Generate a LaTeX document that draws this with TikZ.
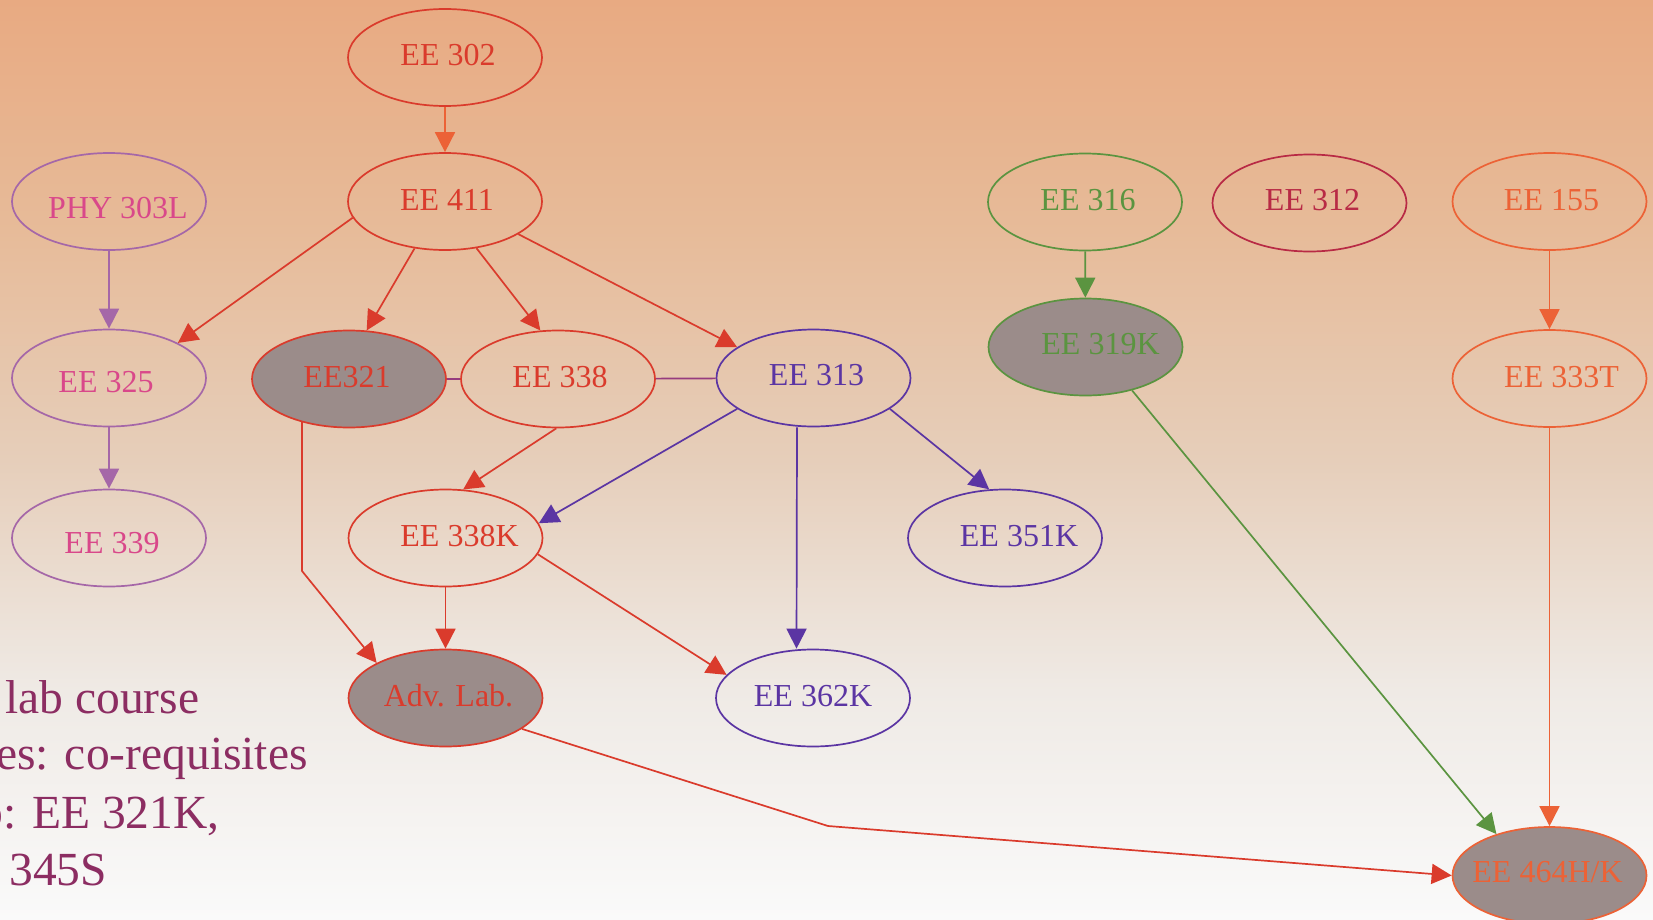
\documentclass[tikz,border=0pt]{standalone}
\usepackage{fontspec}
\setmainfont{Liberation Serif}
\usetikzlibrary{shapes.geometric,arrows.meta}
\definecolor{cred}{HTML}{DA3B2C}
\definecolor{corange}{HTML}{EC6236}
\definecolor{cpurp}{HTML}{A567A8}
\definecolor{cpink}{HTML}{D9488A}
\definecolor{cdpurp}{HTML}{5B35A3}
\definecolor{cgreen}{HTML}{5B9440}
\definecolor{ccrim}{HTML}{B82A45}
\definecolor{cgray}{HTML}{9B8C8A}
\definecolor{clink}{HTML}{963C7E}
\definecolor{cnote}{HTML}{8C2D62}
\definecolor{bga}{RGB}{232,170,130}
\definecolor{bgb}{RGB}{231,187,153}
\definecolor{bgc}{RGB}{230,206,186}
\definecolor{bgd}{RGB}{239,234,229}
\definecolor{bge}{RGB}{250,250,250}
\tikzset{
  course/.style={ellipse, draw, line width=0.85pt, minimum width=97pt, minimum height=48.5pt, inner sep=0pt},
  done/.style={fill=cgray},
  lbl/.style={font=\fontsize{16}{19}\selectfont, inner sep=0pt, anchor=base},
  conn/.style={line width=0.85pt, -{Triangle[length=10pt,width=10pt]}},
  plain/.style={line width=0.85pt},
  note/.style={font=\fontsize{23.75}{28}\selectfont, text=cnote, anchor=base west, inner sep=0pt}
}
\begin{document}
\begin{tikzpicture}[x=0.5pt,y=-0.5pt]
\useasboundingbox (0,0) rectangle (1653,920);
\begin{scope}
\clip (0,0) rectangle (1653,920);
% background
\shade[top color=bga, bottom color=bgb] (0,0) rectangle (1653,231);
\shade[top color=bgb, bottom color=bgc] (0,230) rectangle (1653,461);
\shade[top color=bgc, bottom color=bgd] (0,460) rectangle (1653,691);
\shade[top color=bgd, bottom color=bge] (0,690) rectangle (1653,920);

% nodes
\node[course, draw=cred] (ee302) at (445,57.5) {};
\node[course, draw=cred] (ee411) at (445,201.5) {};
\node[course, draw=cpurp] (phy) at (109,201.5) {};
\node[course, draw=cpurp] (ee325) at (109,378) {};
\node[course, draw=cpurp] (ee339) at (109,538) {};
\node[course, done, draw=cred] (ee321) at (349,379) {};
\node[course, draw=cred] (ee338) at (558,379) {};
\node[course, draw=cdpurp] (ee313) at (813.5,378) {};
\node[course, draw=cred] (ee338k) at (445.5,538) {};
\node[course, draw=cdpurp] (ee351k) at (1005,538) {};
\node[course, done, draw=cred] (advlab) at (445.5,698) {};
\node[course, draw=cdpurp] (ee362k) at (813,698) {};
\node[course, draw=cgreen] (ee316) at (1085,202) {};
\node[course, done, draw=cgreen] (ee319k) at (1085.5,347) {};
\node[course, draw=ccrim] (ee312) at (1309.5,203) {};
\node[course, draw=corange] (ee155) at (1549.5,201.5) {};
\node[course, draw=corange] (ee333t) at (1549.5,378.5) {};
\node[course, done, draw=corange] (ee464) at (1549.5,875.5) {};

% labels
\node[lbl, text=cred] (ee302-t) at ([xshift=1.5pt,yshift=-4.25pt]ee302.center) {EE 302};
\node[lbl, text=cred] (ee411-t) at ([xshift=1pt,yshift=-4.25pt]ee411.center) {EE 411};
\node[lbl, text=cpink] (phy-t) at ([xshift=4.5pt,yshift=-8.25pt]phy.center) {PHY 303L};
\node[lbl, text=cpink] (ee325-t) at ([xshift=-1.5pt,yshift=-7pt]ee325.center) {EE 325};
\node[lbl, text=cpink] (ee339-t) at ([xshift=1.5pt,yshift=-7.5pt]ee339.center) {EE 339};
\node[lbl, text=cred] (ee321-t) at ([xshift=-1pt,yshift=-4pt]ee321.center) {EE321};
\node[lbl, text=cred] (ee338-t) at ([xshift=1pt,yshift=-4pt]ee338.center) {EE 338};
\node[lbl, text=cdpurp] (ee313-t) at ([xshift=1.5pt,yshift=-3.9pt]ee313.center) {EE 313};
\node[lbl, text=cred] (ee338k-t) at ([xshift=7pt,yshift=-4.35pt]ee338k.center) {EE 338K};
\node[lbl, text=cdpurp] (ee351k-t) at ([xshift=7pt,yshift=-4.25pt]ee351k.center) {EE 351K};
\node[lbl, text=cred] (advlab-t) at ([xshift=1.5pt,yshift=-4.35pt]advlab.center) {Adv. Lab.};
\node[lbl, text=cdpurp] (ee362k-t) at ([xshift=0pt,yshift=-4.25pt]ee362k.center) {EE 362K};
\node[lbl, text=cgreen] (ee316-t) at ([xshift=1.5pt,yshift=-4.25pt]ee316.center) {EE 316};
\node[lbl, text=cgreen] (ee319k-t) at ([xshift=7.5pt,yshift=-3.5pt]ee319k.center) {EE 319K};
\node[lbl, text=ccrim] (ee312-t) at ([xshift=1.5pt,yshift=-3.85pt]ee312.center) {EE 312};
\node[lbl, text=corange] (ee155-t) at ([xshift=1pt,yshift=-4.25pt]ee155.center) {EE 155};
\node[lbl, text=corange] (ee333t-t) at ([xshift=6pt,yshift=-4.25pt]ee333t.center) {EE 333T};
\node[lbl, text=corange] (ee464-t) at ([xshift=-1pt,yshift=-3.6pt]ee464.center) {EE 464H/K};

% connectors
\draw[conn, corange] (ee302) -- (ee411);
\draw[conn, cred] (ee411.190) -- (ee325.27);
\draw[conn, cred] (ee411.237) -- (ee321.70);
\draw[conn, cred] (ee411.304) -- (ee338.110);
\draw[conn, cred] (ee411.336) -- (ee313.158);
\draw[conn, cpurp] (phy) -- (ee325);
\draw[conn, cpurp] (ee325) -- (ee339);
\draw[plain, clink] (ee321) -- (ee338);
\draw[plain, clink] (ee338) -- (ee313);
\draw[conn, cred] (ee338.268) -- (ee338k.70);
\draw[conn, cdpurp] (ee313.202) -- (ee338k.9);
\draw[conn, cdpurp] ([xshift=-8.25pt]ee313.south) -- ([xshift=-8.25pt]ee362k.north);
\draw[conn, cdpurp] (ee313.338) -- (ee351k.108);
\coordinate (b1) at (302,571);
\draw[conn, cred] (ee321.222 -| b1) -- (b1) -- (advlab.153);
\draw[conn, cred] (ee338k) -- (advlab);
\draw[conn, cred] (ee338k.350) -- (ee362k.165);
\coordinate (b2) at (828,826);
\draw[conn, cred] (advlab.338) -- (b2) -- (ee464.west);
\draw[conn, cgreen] (ee316) -- (ee319k);
\draw[conn, cgreen] (ee319k.317) -- (ee464.142);
\draw[conn, corange] (ee155) -- (ee333t);
\draw[conn, corange] (ee333t) -- (ee464);

% note text
\node[note] (n1) at (5,713) {lab course};
\node[note] (n2) at (-4,769) {es: co-requisites};
\node[note] (n3) at (-21,828) {b: EE 321K,};
\node[note] (n4) at (9,885) {345S};
\end{scope}
\end{tikzpicture}
\end{document}
